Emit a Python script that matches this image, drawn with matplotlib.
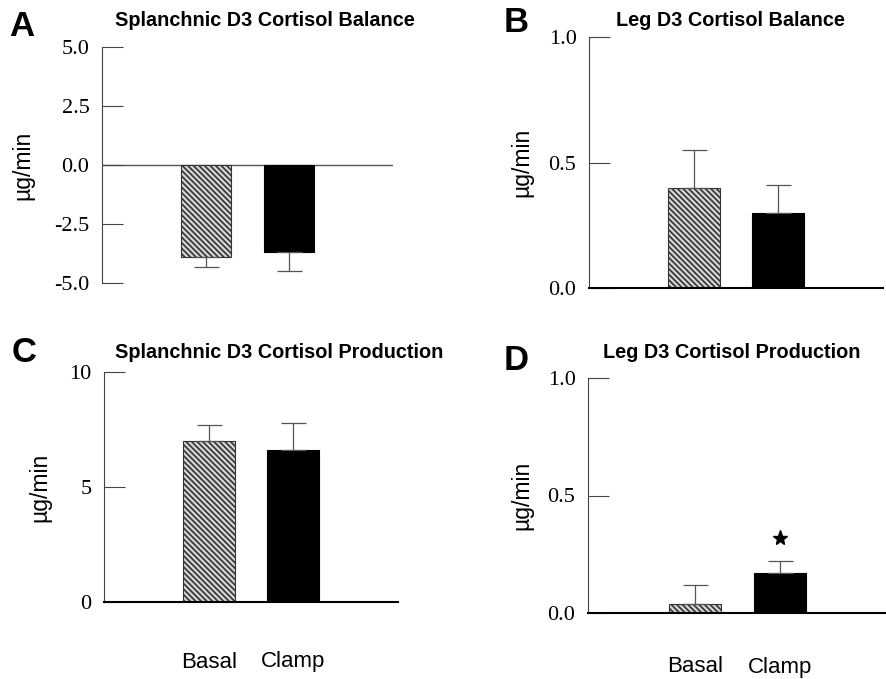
import matplotlib
matplotlib.use("Agg")
import matplotlib.pyplot as plt

# data
groups = ["Basal", "Clamp"]

a_vals = [-3.9, -3.7]
a_err = [0.42, 0.8]
b_vals = [0.40, 0.30]
b_err = [0.15, 0.11]
c_vals = [7.0, 6.6]
c_err = [0.7, 1.2]
d_vals = [0.04, 0.17]
d_err = [0.08, 0.05]

W, H = 887, 679
plt.rcParams['hatch.linewidth'] = 1.2
plt.rcParams['hatch.color'] = '#2a2a2a'
fig = plt.figure(figsize=(W / 100, H / 100), dpi=100)

def box(left, top, right, bottom):
    return [left / W, 1 - bottom / H, (right - left) / W, (bottom - top) / H]

serif = 'Liberation Serif'
sans = 'Liberation Sans'

def panel(rect, vals, err, ylim, yticks, ylabels, negative=False):
    ax = fig.add_axes(rect)
    x = [0, 1]
    ax.bar(x[0], vals[0], width=0.61, color='#d4d4d4', hatch='\\\\\\\\\\\\',
           edgecolor='#333333', linewidth=0.8)
    ax.bar(x[1], vals[1], width=0.61, color='black', edgecolor='black', linewidth=0.8)
    if negative:
        yerr = [err, [0, 0]]
    else:
        yerr = [[0, 0], err]
    ax.errorbar(x, vals, yerr=yerr, fmt='none', ecolor='#555555', elinewidth=0.9,
                capsize=9, capthick=0.9)
    ax.set_xlim(-1.25, 2.25)
    ax.set_ylim(*ylim)
    ax.set_yticks(yticks)
    ax.set_yticklabels(ylabels, fontfamily=serif, fontsize=16)
    ax.set_xticks([])
    for s in ['top', 'right']:
        ax.spines[s].set_visible(False)
    ax.spines['left'].set_color('#444444')
    ax.spines['left'].set_linewidth(0.8)
    ax.spines['bottom'].set_linewidth(1.5)
    ax.tick_params(axis='y', direction='in', length=15, width=0.8, color='#444444',
                   pad=9)
    return ax

axA = panel(box(102, 47, 393, 283), a_vals, a_err, (-5, 5),
            [-5, -2.5, 0, 2.5, 5], ["-5.0", "-2.5", "0.0", "2.5", "5.0"], negative=True)
axA.spines['bottom'].set_visible(False)
axA.axhline(0, color='#555555', linewidth=1.0, zorder=0)

axB = panel(box(589, 37, 883, 288), b_vals, b_err, (0, 1),
            [0, 0.5, 1.0], ["0.0", "0.5", "1.0"])
axC = panel(box(104, 372, 398, 602), c_vals, c_err, (0, 10),
            [0, 5, 10], ["0", "5", "10"])
axD = panel(box(588, 378, 887, 613), d_vals, d_err, (0, 1),
            [0, 0.5, 1.0], ["0.0", "0.5", "1.0"])

# significance star above clamp bar in D
axD.plot(1, d_vals[1] + d_err[1] + 0.1, marker='*', color='black', markersize=11)

for ax, lx in [(axA, 23), (axB, 522), (axC, 40), (axD, 522)]:
    pos = ax.get_position()
    fig.text(lx / W, pos.y0 + pos.height / 2, "µg/min", rotation=90, ha='center',
             va='center', fontfamily=sans, fontsize=16.5)

for ax, ly in [(axC, 662), (axD, 667)]:
    for i, g in enumerate(groups):
        xd = ax.transData.transform((i, 0))[0]
        fig.text(xd / fig.dpi / fig.get_figwidth(), 1 - ly / H, g, ha='center',
                 va='center', fontfamily=sans, fontsize=16)

# titles
fig.text(115 / W, 1 - 20 / H, "Splanchnic D3 Cortisol Balance", ha='left', va='center',
         fontfamily=sans, fontweight='bold', fontsize=14.3)
fig.text(730 / W, 1 - 20 / H, "Leg D3 Cortisol Balance", ha='center', va='center',
         fontfamily=sans, fontweight='bold', fontsize=14.3)
fig.text(115 / W, 1 - 352 / H, "Splanchnic D3 Cortisol Production", ha='left', va='center',
         fontfamily=sans, fontweight='bold', fontsize=14.3)
fig.text(732 / W, 1 - 352 / H, "Leg D3 Cortisol Production", ha='center', va='center',
         fontfamily=sans, fontweight='bold', fontsize=14.3)

# panel letters
for letter, lx, ly in [("A", 22, 26), ("B", 516, 22), ("C", 24, 353), ("D", 516, 361)]:
    fig.text(lx / W, 1 - ly / H, letter, ha='center', va='center', fontfamily=sans,
             fontweight='bold', fontsize=25)

fig.savefig("out.png", dpi=100)
